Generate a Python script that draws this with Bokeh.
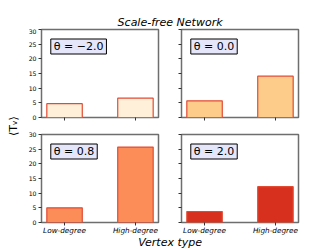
import math
from bokeh.plotting import figure
from bokeh.models import Range1d, FixedTicker, Label
from bokeh.layouts import row, column
from bokeh.embed import file_html
from bokeh.resources import INLINE

# ---- data ----
thetas = ["−2.0", "0.0", "0.8", "2.0"]
categories = ["Low-degree", "High-degree"]
low_vals = [4.7, 5.7, 5.0, 3.75]
high_vals = [6.6, 14.1, 25.7, 12.2]
fill_colors = ["#fef0d9", "#fdcc8a", "#fc8d59", "#d7301f"]
y_ticks = [0, 5, 10, 15, 20, 25, 30]
title_text = "Scale-free Network"
xlabel_text = "Vertex type"
ylabel_text = "⟨Tᵥ⟩"

FONT = "DejaVu Sans"
SPINE = "#6e6e6e"


def blank(w, h):
    p = figure(width=w, height=h, output_backend="svg", toolbar_location=None,
               x_range=Range1d(0, 1), y_range=Range1d(0, 1),
               min_border=0, min_border_left=0, min_border_right=0,
               min_border_top=0, min_border_bottom=0)
    p.axis.visible = False
    p.grid.visible = False
    p.outline_line_color = None
    p.background_fill_color = "white"
    p.border_fill_color = "white"
    return p


def panel(i, left, right, top, bottom, show_x, show_y):
    w = left + right + 117
    h = top + bottom + 88
    p = figure(width=w, height=h, output_backend="svg", toolbar_location=None,
               x_range=Range1d(-0.325, 1.325), y_range=Range1d(0, 30),
               min_border_left=left, min_border_right=right,
               min_border_top=top, min_border_bottom=bottom)
    p.vbar(x=[0, 1], top=[low_vals[i], high_vals[i]], width=0.5, bottom=0,
           fill_color=fill_colors[i], line_color="#e34a33", line_width=1.2)
    p.grid.visible = False
    p.outline_line_color = SPINE
    p.outline_line_width = 1.5
    p.background_fill_color = "white"
    p.border_fill_color = "white"
    for ax in (p.xaxis[0], p.yaxis[0]):
        ax.axis_line_color = None
        ax.major_tick_out = 3
        ax.major_tick_in = 0
        ax.minor_tick_line_color = None
        ax.major_tick_line_color = "#333333"
        ax.major_label_text_font = FONT
        ax.major_label_text_color = "black"
    p.xaxis.ticker = FixedTicker(ticks=[0, 1])
    p.yaxis.ticker = FixedTicker(ticks=y_ticks)
    if show_x:
        p.xaxis.major_label_overrides = {0: categories[0], 1: categories[1]}
        p.xaxis.major_label_text_font_style = "italic"
        p.xaxis.major_label_text_font_size = "7.3px"
        p.xaxis.major_label_standoff = 0
    else:
        p.xaxis.major_label_text_font_size = "1px"
        p.xaxis.major_label_text_color = None
        p.xaxis.major_label_standoff = 0
    if show_y:
        p.yaxis.major_label_text_font_size = "6.2px"
        p.yaxis.major_label_standoff = 2
    else:
        p.yaxis.major_label_text_font_size = "1px"
        p.yaxis.major_label_text_color = None
        p.yaxis.major_label_standoff = 0
    lab = Label(x=-0.194, y=24.2, text="θ = " + thetas[i],
                text_font=FONT, text_font_size="11px", text_color="black",
                text_baseline="middle", text_align="left",
                background_fill_color="#e6e6fa", border_line_color="black",
                border_line_width=1,
                padding=dict(left=3, right=3, top=1, bottom=1))
    p.add_layout(lab)
    return p


tl = panel(0, 20, 11, 1, 8, False, True)
tr = panel(1, 12, 16, 1, 8, False, False)
bl = panel(2, 20, 11, 9, 15, True, True)
br = panel(3, 12, 16, 9, 15, True, False)

YW = 21
total_w = YW + tl.width + tr.width
grid_h = tl.height + bl.height

tfig = blank(total_w, 28)
tfig.add_layout(Label(x=0.54, y=0.2, text=title_text, text_font=FONT,
                      text_font_size="11px", text_font_style="italic",
                      text_color="black",
                      text_align="center", text_baseline="middle"))

yfig = blank(YW, grid_h)
yfig.add_layout(Label(x=0.62, y=0.533, text=ylabel_text, text_font=FONT,
                      text_font_size="11px", angle=math.pi / 2,
                      text_color="black",
                      text_align="center", text_baseline="middle"))

xfig = blank(total_w, 12)
xfig.add_layout(Label(x=0.54, y=0.55, text=xlabel_text, text_font=FONT,
                      text_font_size="11px", text_font_style="italic",
                      text_color="black",
                      text_align="center", text_baseline="middle"))

layout = column(tfig,
                row(yfig, column(row(tl, tr), row(bl, br))),
                xfig)

open("out.html", "w").write(file_html(layout, INLINE))
